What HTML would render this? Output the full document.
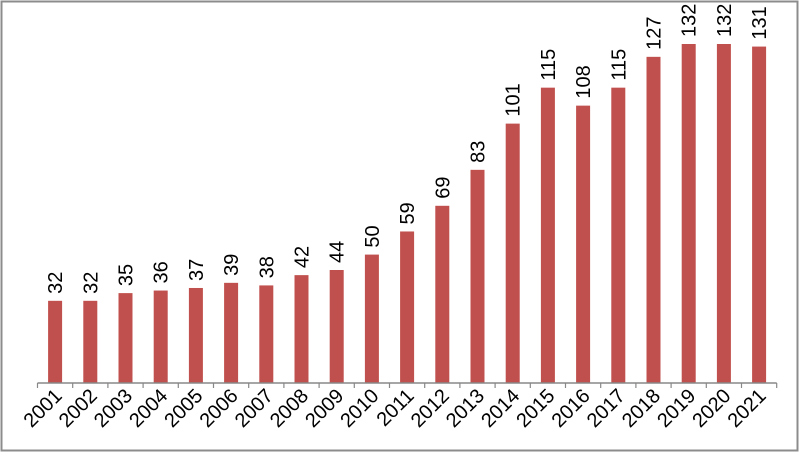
<!DOCTYPE html>
<html><head><meta charset="utf-8"><style>
html,body{margin:0;padding:0;background:#fff;}
svg{display:block;font-family:"Liberation Sans",Arial,sans-serif;}
</style></head><body>
<svg id="chart" width="800" height="459" viewBox="0 0 800 459">
<rect x="1.5" y="1.5" width="796" height="449" fill="#fff" stroke="#8c8c8c" stroke-width="2"/>
<g id="bars"></g>
<g id="axis"></g>
</svg>
<script>
const categories = ["2001","2002","2003","2004","2005","2006","2007","2008","2009","2010","2011","2012","2013","2014","2015","2016","2017","2018","2019","2020","2021"];
const values = [32,32,35,36,37,39,38,42,44,50,59,69,83,101,115,108,115,127,132,132,131];

const NS = "http://www.w3.org/2000/svg";
const x0 = 37.5, step = 35.2, baseY = 383, pxPerUnit = 339/132, barW = 14;
const xc = i => x0 + step*(i+0.5);
const y = v => baseY - v*pxPerUnit;
const bars = document.getElementById('bars');
const axis = document.getElementById('axis');

function mk(tag, attrs){const e=document.createElementNS(NS,tag);for(const k in attrs)e.setAttribute(k,attrs[k]);return e;}

values.forEach((v,i)=>{
  const r = mk('rect',{x:xc(i)-barW/2,y:y(v),width:barW,height:baseY-y(v),fill:'#c0504d'});
  
  
  bars.appendChild(r);
  const t = mk('text',{x:0,y:0,'font-size':20,fill:'#000',transform:`translate(${xc(i)+7},${y(v)-7}) rotate(-90)`});
  t.textContent = v;
  
  
  bars.appendChild(t);
});

const axLine = mk('line',{x1:x0,x2:x0+step*categories.length,y1:baseY,y2:baseY,stroke:'#888','stroke-width':1.5});


axis.appendChild(axLine);
for(let i=0;i<=categories.length;i++){
  const tk = mk('line',{x1:x0+step*i,x2:x0+step*i,y1:baseY,y2:baseY+5,stroke:'#888','stroke-width':1.2});
  
  
  axis.appendChild(tk);
}
categories.forEach((c,i)=>{
  const t = mk('text',{x:0,y:0,'font-size':20,'text-anchor':'end',fill:'#000',transform:`translate(${xc(i)+8},${baseY+14}) rotate(-45)`});
  t.textContent = c;
  
  
  axis.appendChild(t);
});
</script>
</body></html>
